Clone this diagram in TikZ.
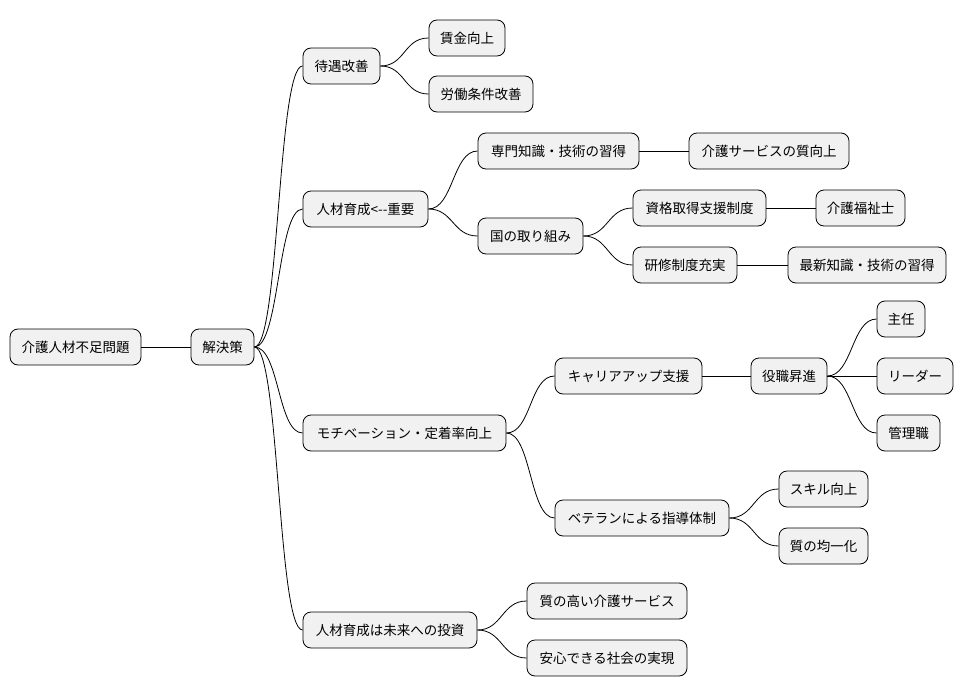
\documentclass[tikz,border=0pt]{standalone}
\usepackage{fontspec}
\setmainfont{Noto Sans CJK JP}
\begin{document}
\begin{tikzpicture}[x=1pt,y=-1pt,
  box/.style={draw=black,line width=0.8pt,fill={rgb,255:red,241;green,241;blue,241},rounded corners=8pt,minimum height=36pt,inner sep=0pt,font=\fontsize{13.5}{16}\selectfont},
  conn/.style={line width=0.8pt}]
\useasboundingbox (0,0) rectangle (964,696);
\newcommand\mn[5]{\node[box,minimum width=#4pt] (#1) at (#2,#3) {#5};}
\mn{root}{75.5}{347}{131}{介護人材不足問題}
\mn{sol}{222.5}{347}{63}{解決策}
\mn{a}{341.5}{66}{77}{待遇改善}
\mn{a1}{467}{38}{76}{賃金向上}
\mn{a2}{481}{94}{104}{労働条件改善}
\mn{b}{365.5}{209}{125}{人材育成<{-}{-}重要}
\mn{b1}{558.5}{151}{161}{専門知識・技術の習得}
\mn{b11}{769}{151}{160}{介護サービスの質向上}
\mn{b2}{530.5}{236}{105}{国の取り組み}
\mn{b21}{699.5}{208}{133}{資格取得支援制度}
\mn{b211}{860.5}{208}{89}{介護福祉士}
\mn{b22}{685}{265}{104}{研修制度充実}
\mn{b221}{867}{265}{158}{最新知識・技術の習得}
\mn{c}{404.5}{433}{203}{モチベーション・定着率向上}
\mn{c1}{628.5}{376}{147}{キャリアアップ支援}
\mn{c11}{789}{376}{76}{役職昇進}
\mn{c111}{901}{319}{48}{主任}
\mn{c112}{915}{376}{76}{リーダー}
\mn{c113}{908.5}{433}{63}{管理職}
\mn{c2}{642}{518}{174}{ベテランによる指導体制}
\mn{c21}{823.5}{489}{89}{スキル向上}
\mn{c22}{823.5}{546}{89}{質の均一化}
\mn{d}{390}{630}{174}{人材育成は未来への投資}
\mn{d1}{607}{601}{160}{質の高い介護サービス}
\mn{d2}{607}{658}{160}{安心できる社会の実現}
\foreach \p/\c in {root/sol,sol/a,sol/b,sol/c,sol/d,a/a1,a/a2,b/b1,b/b2,b1/b11,b2/b21,b2/b22,b21/b211,b22/b221,c/c1,c/c2,c1/c11,c11/c111,c11/c112,c11/c113,c2/c21,c2/c22,d/d1,d/d2}{\draw[conn] (\p.east) .. controls +(25,0) and +(-25,0) .. (\c.west);}
\end{tikzpicture}
\end{document}
